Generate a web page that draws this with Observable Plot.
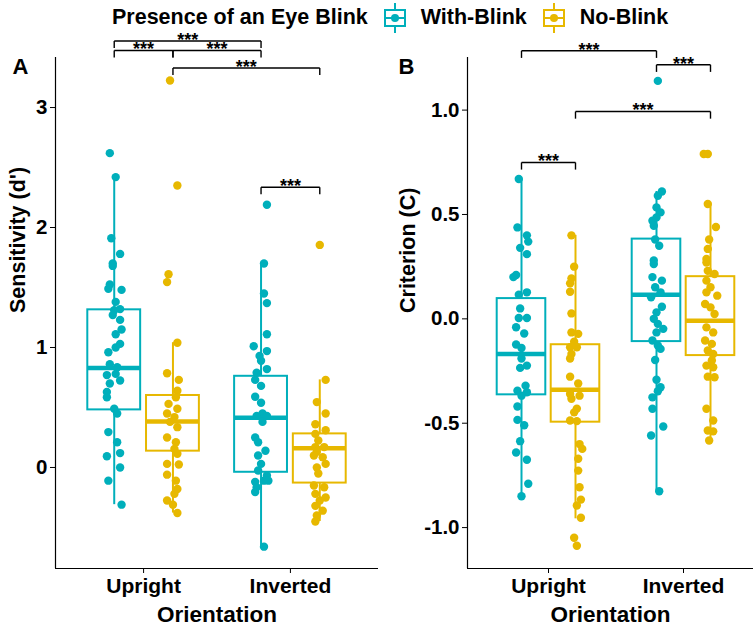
<!DOCTYPE html>
<html><head><meta charset="utf-8">
<script src="https://cdn.jsdelivr.net/npm/d3@7"></script>
<script src="https://cdn.jsdelivr.net/npm/@observablehq/plot@0.6"></script>
<style>
body{margin:0;background:#fff;font-family:"Liberation Sans",Arial,sans-serif;}
#wrap{width:753px;height:629px;position:relative;overflow:hidden;background:#fff;}
#legend{height:38px;box-sizing:border-box;display:flex;align-items:flex-start;padding:2px 0 0 112px;font-weight:bold;font-size:21.5px;line-height:30px;color:#000;white-space:nowrap;}
#legend span{line-height:22px;margin-top:4px;}
#legend svg{margin:0 13px 0 14px;}
#charts{display:flex;}
</style></head><body>
<div id="wrap"><div id="legend"></div><div id="charts"></div></div>
<script>
// ---------- categories ----------
const orientations = ["Upright", "Inverted"];
const blinkGroups = ["With-Blink", "No-Blink"];
const colors = ["#00AFBB", "#E7B800"];
const legendTitle = "Presence of an Eye Blink";

// ---------- Panel A: Sensitivity (d') — [value, jitter] ----------
const A_UprightWith = [[2.62,-0.03],[2.42,0.01],[1.91,-0.02],[1.78,0.04],[1.70,-0.01],[1.68,-0.01],[1.525,-0.03],[1.49,-0.04],[1.48,0.05],[1.38,0.01],[1.32,0.04],[1.31,0],[1.27,-0.01],[1.23,0.04],[1.15,0.05],[1.11,0.01],[1.03,0.04],[1.00,0.01],[0.96,-0.04],[0.86,-0.03],[0.835,0.02],[0.78,0.01],[0.77,-0.05],[0.725,0.04],[0.70,-0.03],[0.63,-0.05],[0.585,-0.05],[0.49,0],[0.45,0.02],[0.295,-0.04],[0.21,0.02],[0.12,0.04],[0.094,-0.05],[0.0,0.04],[-0.11,-0.04],[-0.31,0.05]];
const A_UprightNo = [[3.225,-0.02],[2.35,0.03],[1.61,-0.03],[1.545,-0.04],[1.04,0.03],[0.785,-0.04],[0.73,0.04],[0.64,0.03],[0.585,0.02],[0.53,-0.03],[0.49,0.03],[0.45,-0.04],[0.42,0.01],[0.38,-0.02],[0.336,0.03],[0.25,-0.04],[0.21,0.02],[0.155,0.01],[0.114,0.03],[0.03,-0.04],[0.025,0.04],[-0.06,-0.04],[-0.11,0.02],[-0.18,0.03],[-0.22,0.01],[-0.275,-0.04],[-0.31,0],[-0.38,0.03]];
const A_InvertedWith = [[2.19,0.04],[1.70,0.02],[1.45,0.02],[1.37,0.04],[1.11,0.04],[1.01,-0.05],[0.97,0.04],[0.93,-0.01],[0.89,0],[0.82,0.04],[0.79,-0.03],[0.73,-0.04],[0.68,0],[0.59,-0.04],[0.54,0],[0.45,0.01],[0.43,-0.03],[0.43,0.04],[0.38,0.01],[0.25,-0.04],[0.21,-0.02],[0.14,0.03],[0.10,-0.02],[0.03,0],[-0.025,-0.02],[-0.067,0.04],[-0.11,0.02],[-0.12,-0.04],[-0.11,0.05],[-0.165,-0.03],[-0.205,-0.04],[-0.66,0.02]];
const A_InvertedNo = [[1.855,0],[0.73,0.04],[0.545,-0.02],[0.45,0.04],[0.36,-0.03],[0.31,0.04],[0.28,-0.03],[0.225,-0.01],[0.17,-0.03],[0.17,0.03],[0.13,-0.02],[0.10,-0.04],[0.086,0.02],[0.03,0.04],[0.0,-0.02],[-0.05,-0.01],[-0.15,-0.04],[-0.165,0.03],[-0.22,-0.03],[-0.25,0.04],[-0.275,0],[-0.32,-0.03],[-0.36,0.02],[-0.40,-0.02],[-0.45,-0.03]];
// box stats [orientation, group, q1, median, q3, lowerWhisker, upperWhisker]
const A_boxes = [
  ["Upright","With-Blink",0.48,0.83,1.314,-0.31,2.42],
  ["Upright","No-Blink",0.136,0.383,0.60,-0.38,1.04],
  ["Inverted","With-Blink",-0.04,0.414,0.76,-0.66,1.70],
  ["Inverted","No-Blink",-0.13,0.16,0.28,-0.45,0.73]
];
const A_ticks = [0, 1, 2, 3];
const A_domain = [-0.842, 3.417];
// significance brackets: [orientation1, group1, orientation2, group2, level]
const A_sig = [
  ["Upright","With-Blink","Inverted","With-Blink",3.555],
  ["Upright","With-Blink","Upright","No-Blink",3.475],
  ["Upright","No-Blink","Inverted","With-Blink",3.475],
  ["Upright","No-Blink","Inverted","No-Blink",3.33],
  ["Inverted","With-Blink","Inverted","No-Blink",2.336]
];

// ---------- Panel B: Criterion (C) ----------
const B_UprightWith = [[0.67,-0.02],[0.438,-0.03],[0.40,0.04],[0.37,0.05],[0.34,-0.01],[0.31,0.04],[0.21,-0.04],[0.20,-0.06],[0.127,0.04],[0.116,-0.02],[0.05,-0.01],[0.004,-0.02],[0.004,0.04],[-0.04,-0.04],[-0.07,0.02],[-0.123,-0.04],[-0.14,0],[-0.19,0],[-0.224,0.04],[-0.235,-0.01],[-0.32,0.03],[-0.344,-0.03],[-0.352,0.04],[-0.368,0],[-0.42,-0.03],[-0.484,-0.03],[-0.51,0.02],[-0.586,-0.01],[-0.64,-0.04],[-0.675,0.04],[-0.79,0.05],[-0.85,0]];
const B_UprightNo = [[0.40,-0.03],[0.25,-0.01],[0.194,-0.03],[0.17,-0.04],[0.13,-0.04],[0.026,-0.03],[-0.065,-0.03],[-0.072,0.02],[-0.11,-0.01],[-0.136,-0.04],[-0.136,0.01],[-0.168,-0.03],[-0.19,-0.04],[-0.277,-0.04],[-0.31,0.02],[-0.36,-0.04],[-0.368,0.03],[-0.383,-0.03],[-0.43,0.01],[-0.448,-0.01],[-0.487,-0.04],[-0.49,0.01],[-0.60,0.03],[-0.623,0.05],[-0.67,0.02],[-0.727,0.02],[-0.807,0.03],[-0.866,0.04],[-0.894,0.01],[-0.953,0.04],[-1.049,-0.01],[-1.087,0.01]];
const B_InvertedWith = [[1.14,0.01],[0.61,0.04],[0.59,0.01],[0.534,0],[0.51,0.03],[0.486,0],[0.47,-0.03],[0.446,-0.02],[0.38,-0.01],[0.35,0.02],[0.28,-0.02],[0.263,-0.02],[0.20,-0.03],[0.183,0.04],[0.151,-0.01],[0.127,0.03],[0.103,-0.04],[0.058,0.04],[0.031,0],[0.0,-0.02],[-0.024,0.01],[-0.048,0.05],[-0.065,0],[-0.104,-0.03],[-0.128,0.01],[-0.144,0.03],[-0.197,-0.01],[-0.292,0],[-0.328,0.03],[-0.347,0.01],[-0.376,-0.03],[-0.431,-0.03],[-0.516,0.05],[-0.559,-0.04],[-0.826,0.02]];
const B_InvertedNo = [[0.79,-0.05],[0.79,-0.02],[0.55,-0.02],[0.44,0.04],[0.38,-0.01],[0.335,-0.02],[0.287,-0.03],[0.27,-0.03],[0.23,-0.02],[0.215,0.03],[0.183,-0.03],[0.151,0],[0.127,-0.03],[0.111,0.05],[0.071,-0.04],[0.055,0],[0.023,0.03],[-0.041,-0.03],[-0.065,0.02],[-0.104,-0.04],[-0.12,0.01],[-0.152,-0.02],[-0.168,0.02],[-0.2,0.01],[-0.224,-0.03],[-0.232,0.02],[-0.277,-0.02],[-0.28,0.03],[-0.431,-0.03],[-0.487,0.02],[-0.535,-0.02],[-0.539,0.02],[-0.583,-0.01]];
const B_boxes = [
  ["Upright","With-Blink",-0.364,-0.168,0.097,-0.85,0.67],
  ["Upright","No-Blink",-0.495,-0.34,-0.124,-0.958,0.40],
  ["Inverted","With-Blink",-0.109,0.116,0.382,-0.826,0.61],
  ["Inverted","No-Blink",-0.176,-0.009,0.202,-0.583,0.55]
];
const B_ticks = [-1, -0.5, 0, 0.5, 1];
const B_domain = [-1.196, 1.252];
const B_sig = [
  ["Upright","With-Blink","Inverted","With-Blink",1.284],
  ["Inverted","With-Blink","Inverted","No-Blink",1.217],
  ["Upright","No-Blink","Inverted","No-Blink",0.993],
  ["Upright","With-Blink","Upright","No-Blink",0.749]
];

// ---------- helpers ----------
const catPos = o => orientations.indexOf(o) + 1;
const dodge = 0.2, halfBox = 0.18;
const gx = (o, g) => catPos(o) + (g === blinkGroups[0] ? -dodge : dodge);
const colorOf = g => colors[blinkGroups.indexOf(g)];
const font = '"Liberation Sans", Arial, sans-serif';

function panel({groups, boxes, ticks, domain, sig, tip, tickFmt, ylabel, letter, width, marginLeft, marginRight, xRange, ylabDx, letterDx, letterDy}) {
  const pts = [];
  for (const [o, g, arr] of groups) for (const [v, j] of arr) pts.push({x: gx(o, g) + j, v, g});
  const bx = boxes.map(([o, g, q1, med, q3, lo, hi]) => ({c: gx(o, g), g, q1, med, q3, lo, hi}));
  const sg = sig.map(([o1, g1, o2, g2, y]) => ({x1: gx(o1, g1), x2: gx(o2, g2), y, y2: y - tip}));
  const height = 591, marginTop = 19, marginBottom = 61;
  return Plot.plot({
    width, height, marginTop, marginBottom, marginLeft, marginRight,
    style: {fontFamily: font, fontSize: "21px", fontWeight: "bold", color: "#000", background: "#fff", overflow: "visible"},
    x: {domain: [0.4, 2.6], range: xRange, axis: null},
    y: {domain, axis: null},
    marks: [
      // boxes
      Plot.ruleX(bx, {x: "c", y1: "q3", y2: "hi", stroke: d => colorOf(d.g), strokeWidth: 2}),
      Plot.ruleX(bx, {x: "c", y1: "lo", y2: "q1", stroke: d => colorOf(d.g), strokeWidth: 2}),
      Plot.rect(bx, {x1: d => d.c - halfBox, x2: d => d.c + halfBox, y1: "q1", y2: "q3", fill: "white", stroke: d => colorOf(d.g), strokeWidth: 2}),
      Plot.ruleY(bx, {y: "med", x1: d => d.c - halfBox, x2: d => d.c + halfBox, stroke: d => colorOf(d.g), strokeWidth: 4.5}),
      // points
      Plot.dot(pts, {x: "x", y: "v", r: 4.2, fill: d => colorOf(d.g), stroke: "none"}),
      // axes
      Plot.ruleX([0.4], {stroke: "#000", strokeWidth: 1.2}),
      Plot.ruleY([domain[0]], {stroke: "#000", strokeWidth: 1.2}),
      Plot.axisY(ticks, {tickSize: 5, tickPadding: 3, tickFormat: tickFmt, label: null, fontSize: 20.5, stroke: "#000"}),
      Plot.axisX([1, 2], {tickSize: 5, tickPadding: 5, tickFormat: d => orientations[d - 1], label: null, fontSize: 21, stroke: "#000"}),
      Plot.text(["Orientation"], {frameAnchor: "bottom", dy: 53, fontSize: 22.5, fontWeight: "bold", fill: "#000"}),
      Plot.text([ylabel], {frameAnchor: "left", dx: ylabDx, rotate: -90, fontSize: 21.5, fontWeight: "bold", fill: "#000"}),
      Plot.text([letter], {frameAnchor: "top-left", dx: letterDx, dy: letterDy, fontSize: 22, fontWeight: "bold", fill: "#000"}),
      // significance brackets
      Plot.link(sg, {x1: "x1", x2: "x2", y1: "y", y2: "y", stroke: "#000", strokeWidth: 1.4}),
      Plot.link(sg, {x1: "x1", x2: "x1", y1: "y", y2: "y2", stroke: "#000", strokeWidth: 1.4}),
      Plot.link(sg, {x1: "x2", x2: "x2", y1: "y", y2: "y2", stroke: "#000", strokeWidth: 1.4}),
      Plot.text(sg, {x: d => (d.x1 + d.x2) / 2, y: "y", text: () => "***", dy: -1, fontSize: 18, letterSpacing: "1px", fontWeight: "bold", fill: "#000"})
    ]
  });
}

const fmtB = v => (v < 0 ? "-" : "") + Math.abs(v).toFixed(1);

const chartA = panel({
  groups: [["Upright","With-Blink",A_UprightWith],["Upright","No-Blink",A_UprightNo],["Inverted","With-Blink",A_InvertedWith],["Inverted","No-Blink",A_InvertedNo]],
  boxes: A_boxes, ticks: A_ticks, domain: A_domain, sig: A_sig, tip: 0.058,
  tickFmt: d => String(d), ylabel: "Sensitivity (d')", letter: "A",
  width: 392, marginLeft: 55, marginRight: 14, xRange: [55, 378], ylabDx: -37, letterDx: -43, letterDy: 1
});
const chartB = panel({
  groups: [["Upright","With-Blink",B_UprightWith],["Upright","No-Blink",B_UprightNo],["Inverted","With-Blink",B_InvertedWith],["Inverted","No-Blink",B_InvertedNo]],
  boxes: B_boxes, ticks: B_ticks, domain: B_domain, sig: B_sig, tip: 0.034,
  tickFmt: fmtB, ylabel: "Criterion (C)", letter: "B",
  width: 361, marginLeft: 75, marginRight: 0, xRange: [75, 372], ylabDx: -59, letterDx: -69, letterDy: 1
});
document.getElementById("charts").append(chartA, chartB);

// ---------- legend ----------
const leg = document.getElementById("legend");
const t = document.createElement("span"); t.textContent = legendTitle; leg.append(t);
blinkGroups.forEach((g, i) => {
  const c = colors[i];
  const s = document.createElementNS("http://www.w3.org/2000/svg", "svg");
  s.setAttribute("width", 26); s.setAttribute("height", 32);
  s.innerHTML = `<line x1="13" y1="1" x2="13" y2="31" stroke="${c}" stroke-width="2"/>
    <rect x="3" y="8" width="20" height="16" fill="white" stroke="${c}" stroke-width="2"/>
    <line x1="3" y1="16" x2="23" y2="16" stroke="${c}" stroke-width="2"/>
    <circle cx="13" cy="16" r="4" fill="${c}"/>`;
  leg.append(s);
  const l = document.createElement("span"); l.textContent = g; leg.append(l);
});
</script></body></html>
